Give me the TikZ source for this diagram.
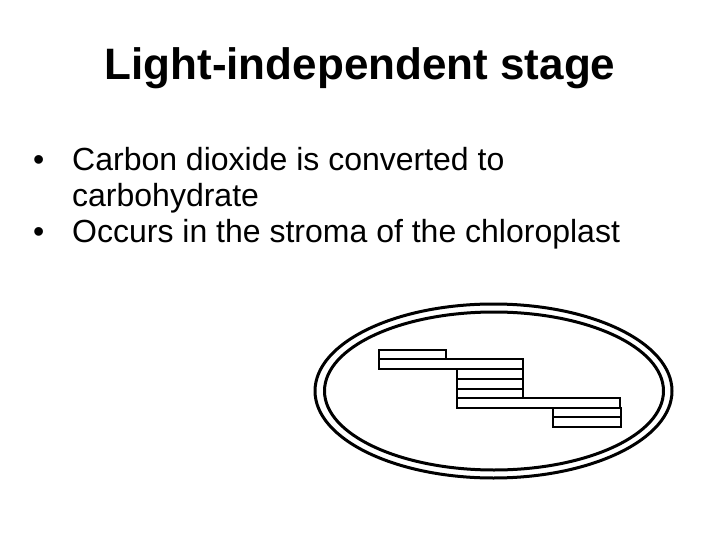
\documentclass[tikz,border=0pt]{standalone}
\usepackage{fontspec}
\setmainfont{Liberation Sans}
\begin{document}
\begin{tikzpicture}[x=1pt,y=-1pt,
  txt/.style={anchor=base west,inner sep=0pt,font=\fontsize{32}{36}\selectfont},
  memb/.style={line width=3pt},
  lam/.style={draw,line width=2.8pt}]
\useasboundingbox[fill=white] (0,0) rectangle (720,540);
\node[inner sep=0pt,font=\bfseries\fontsize{44}{48}\selectfont] (title) at (360,68) {Light-independent stage};
\node[txt] (b1) at (33,171) {•};
\node[txt] (t1) at (72,171) {Carbon dioxide is converted to};
\node[txt] (t2) at (72,207) {carbohydrate};
\node[txt] (b2) at (33,243) {•};
\node[txt] (t3) at (72,243) {Occurs in the stroma of the chloroplast};
\draw[memb] (493.5,391) ellipse [x radius=178.5, y radius=87];
\draw[memb] (494,391) ellipse [x radius=169.5, y radius=79];
\draw[lam] (379,350) rectangle (446,359);
\draw[lam] (379,359) rectangle (523,369);
\draw[lam] (457,369) rectangle (523,379);
\draw[lam] (457,379) rectangle (523,389);
\draw[lam] (457,389) rectangle (523,398);
\draw[lam] (457,398) rectangle (620,408);
\draw[lam] (553,408) rectangle (621,417);
\draw[lam] (553,417) rectangle (621,427);
\end{tikzpicture}
\end{document}
